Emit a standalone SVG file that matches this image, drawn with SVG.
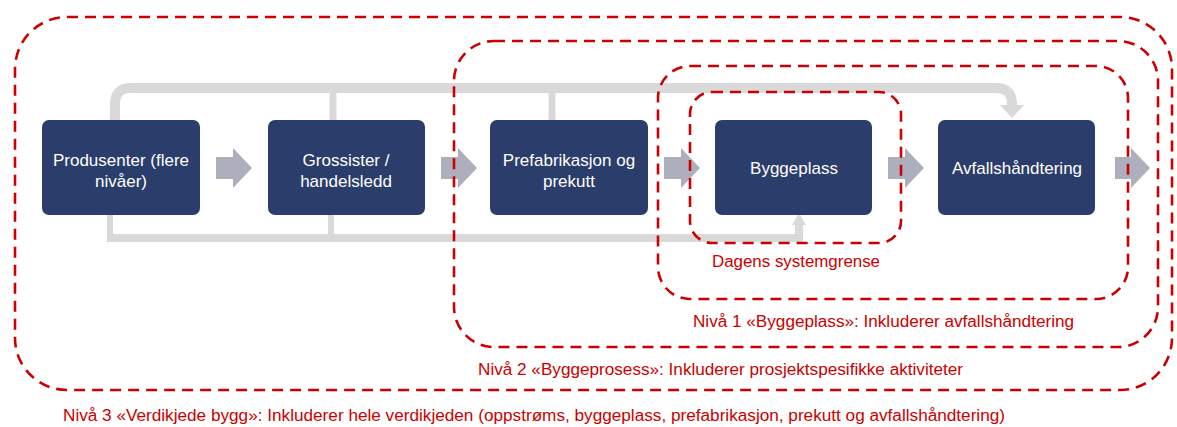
<svg xmlns="http://www.w3.org/2000/svg" width="1177" height="427" viewBox="0 0 1177 427">
<style>
.box{fill:#2B3D6A}
.bt{fill:#fff;font-family:"Liberation Sans",Arial,sans-serif;font-size:17px;text-anchor:middle}
.flow{fill:#ADB0BC}
.gl{fill:none;stroke:#D9D9D9;stroke-linejoin:miter}
.bd{fill:none;stroke:#CC0000;stroke-width:2.6;stroke-dasharray:11 7}
.lbl{fill:#CC0000;font-family:"Liberation Sans",Arial,sans-serif;font-size:16px}
</style>
<rect width="1177" height="427" fill="#fff"/>
<g id="connectors">
  <path class="gl" stroke-width="10" d="M115,120 V104 Q115,88 131,88 H996 Q1012,88 1012,104 V106"/>
  <polygon fill="#D9D9D9" points="1000,105 1024,105 1012,118"/>
  <path class="gl" stroke-width="7" d="M333,88 V120 M552,88 V120"/>
  <path class="gl" stroke-width="6" d="M110,215 V238 M331,215 V238"/>
  <path class="gl" stroke-width="8" d="M107,238 H803"/>
  <path class="gl" stroke-width="8" d="M799,242 V224"/>
  <polygon fill="#D9D9D9" points="792,225 806,225 799,213"/>
  <polygon class="flow" points="216,157 233,157 233,148 252,168 233,188 233,179 216,179"/>
  <polygon class="flow" points="441,157 458,157 458,148 477,168 458,188 458,179 441,179"/>
  <polygon class="flow" points="664,157 681,157 681,148 700,168 681,188 681,179 664,179"/>
  <polygon class="flow" points="888,157 905,157 905,148 924,168 905,188 905,179 888,179"/>
  <polygon class="flow" points="1115,157 1131,157 1131,148 1150,168 1131,188 1131,179 1115,179"/>
</g>
<g id="produsenter">
  <rect class="box" x="42" y="120" width="158" height="95" rx="7"/>
  <text class="bt" x="121" y="166">Produsenter (flere</text>
  <text class="bt" x="121" y="187">nivåer)</text>
</g>
<g id="grossister">
  <rect class="box" x="268" y="120" width="157" height="95" rx="7"/>
  <text class="bt" x="346" y="166">Grossister /</text>
  <text class="bt" x="346" y="187">handelsledd</text>
</g>
<g id="prefabrikasjon">
  <rect class="box" x="490" y="120" width="158" height="95" rx="7"/>
  <text class="bt" x="569" y="166">Prefabrikasjon og</text>
  <text class="bt" x="569" y="187">prekutt</text>
</g>
<g id="byggeplass">
  <rect class="box" x="715" y="120" width="157" height="95" rx="7"/>
  <text class="bt" x="794" y="174">Byggeplass</text>
</g>
<g id="avfallshandtering">
  <rect class="box" x="938" y="120" width="157" height="95" rx="7"/>
  <text class="bt" x="1017" y="174">Avfallshåndtering</text>
</g>
<g id="niva3">
  <rect class="bd" x="15" y="17" width="1157" height="373" rx="52"/>
  <text class="lbl" x="63" y="421" textLength="942" lengthAdjust="spacingAndGlyphs">Nivå 3 «Verdikjede bygg»: Inkluderer hele verdikjeden (oppstrøms, byggeplass, prefabrikasjon, prekutt og avfallshåndtering)</text>
</g>
<g id="niva2">
  <rect class="bd" x="454" y="41" width="704" height="306" rx="40"/>
  <text class="lbl" x="478" y="375" textLength="485" lengthAdjust="spacingAndGlyphs">Nivå 2 «Byggeprosess»: Inkluderer prosjektspesifikke aktiviteter</text>
</g>
<g id="niva1">
  <rect class="bd" x="658" y="66" width="470" height="233" rx="32"/>
  <text class="lbl" x="693" y="327" textLength="381" lengthAdjust="spacingAndGlyphs">Nivå 1 «Byggeplass»: Inkluderer avfallshåndtering</text>
</g>
<g id="dagens">
  <rect class="bd" x="690" y="92" width="211" height="151" rx="22"/>
  <text class="lbl" x="712" y="267" textLength="168" lengthAdjust="spacingAndGlyphs">Dagens systemgrense</text>
</g>
</svg>
